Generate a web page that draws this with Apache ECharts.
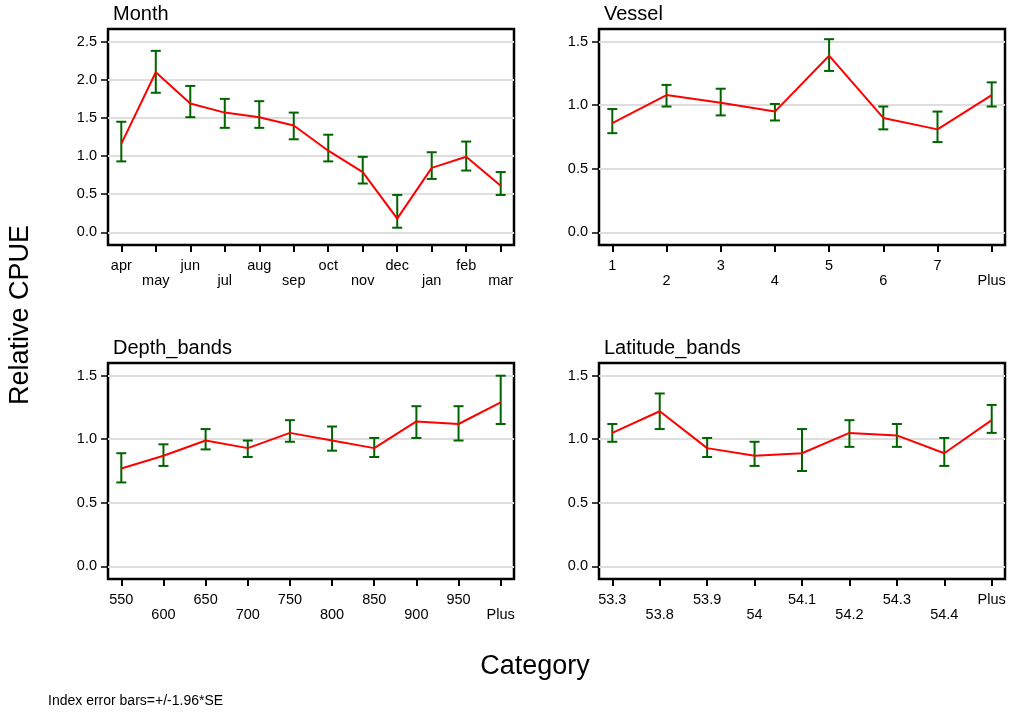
<!DOCTYPE html>
<html>
<head>
<meta charset="utf-8">
<title>Relative CPUE by category</title>
<script src="https://cdn.jsdelivr.net/npm/echarts@6/dist/echarts.min.js"></script>
<style>
  html, body { margin: 0; padding: 0; background: #fff; }
  #chart { width: 1009px; height: 713px; }
</style>
</head>
<body>
<div id="chart"></div>
<script>
// ---- Data: standardised index with +/-1.96*SE limits per category ----
const monthCats = ['apr', 'may', 'jun', 'jul', 'aug', 'sep', 'oct', 'nov', 'dec', 'jan', 'feb', 'mar'];
const monthIdx  = [1.16, 2.10, 1.69, 1.57, 1.51, 1.40, 1.07, 0.79, 0.18, 0.845, 0.99, 0.61];
const monthLo   = [0.93, 1.83, 1.51, 1.37, 1.37, 1.22, 0.93, 0.64, 0.06, 0.70, 0.81, 0.49];
const monthHi   = [1.45, 2.38, 1.92, 1.75, 1.72, 1.57, 1.28, 0.99, 0.49, 1.05, 1.19, 0.79];

const vesselCats = ['1', '2', '3', '4', '5', '6', '7', 'Plus'];
const vesselIdx  = [0.86, 1.08, 1.02, 0.95, 1.39, 0.90, 0.81, 1.08];
const vesselLo   = [0.78, 0.99, 0.92, 0.88, 1.27, 0.81, 0.71, 0.99];
const vesselHi   = [0.97, 1.16, 1.13, 1.01, 1.52, 0.99, 0.95, 1.18];

const depthCats = ['550', '600', '650', '700', '750', '800', '850', '900', '950', 'Plus'];
const depthIdx  = [0.77, 0.87, 0.99, 0.93, 1.05, 0.99, 0.93, 1.14, 1.12, 1.29];
const depthLo   = [0.66, 0.79, 0.92, 0.86, 0.98, 0.91, 0.86, 1.01, 0.99, 1.12];
const depthHi   = [0.89, 0.96, 1.08, 0.99, 1.15, 1.10, 1.01, 1.26, 1.26, 1.50];

const latCats = ['53.3', '53.8', '53.9', '54', '54.1', '54.2', '54.3', '54.4', 'Plus'];
const latIdx  = [1.05, 1.22, 0.93, 0.87, 0.89, 1.05, 1.03, 0.89, 1.15];
const latLo   = [0.98, 1.08, 0.86, 0.79, 0.75, 0.94, 0.94, 0.79, 1.05];
const latHi   = [1.12, 1.36, 1.01, 0.98, 1.08, 1.15, 1.12, 1.01, 1.27];

const monthTicks = [0, 0.5, 1, 1.5, 2, 2.5];
const otherTicks = [0, 0.5, 1, 1.5];

// ---- Layout ----
const FONT = '"Liberation Sans", Arial, Helvetica, sans-serif';
const PANEL_W = 406, PANEL_H = 216;
const EDGE_PAD = 13.3; // px between frame and first/last category
const panels = [
  { title: 'Month',          cats: monthCats,  idx: monthIdx,  lo: monthLo,  hi: monthHi,  ticks: monthTicks, left: 108, top: 29 },
  { title: 'Vessel',         cats: vesselCats, idx: vesselIdx, lo: vesselLo, hi: vesselHi, ticks: otherTicks, left: 599, top: 29 },
  { title: 'Depth_bands',    cats: depthCats,  idx: depthIdx,  lo: depthLo,  hi: depthHi,  ticks: otherTicks, left: 108, top: 363 },
  { title: 'Latitude_bands', cats: latCats,    idx: latIdx,    lo: latLo,    hi: latHi,    ticks: otherTicks, left: 599, top: 363 }
];

const grid = [], xAxis = [], yAxis = [], series = [], graphic = [];

// Vertical error bar with end caps
function renderErrorBar(params, api) {
  const x = api.value(0);
  const lo = api.coord([x, api.value(1)]);
  const hi = api.coord([x, api.value(2)]);
  const hw = 5;
  const style = { stroke: '#006400', lineWidth: 2 };
  return {
    type: 'group',
    children: [
      { type: 'line', shape: { x1: lo[0], y1: lo[1], x2: hi[0], y2: hi[1] }, style },
      { type: 'line', shape: { x1: hi[0] - hw, y1: hi[1], x2: hi[0] + hw, y2: hi[1] }, style },
      { type: 'line', shape: { x1: lo[0] - hw, y1: lo[1], x2: lo[0] + hw, y2: lo[1] }, style }
    ]
  };
}

panels.forEach((p, i) => {
  const n = p.cats.length;
  const step = (PANEL_W - 2 * EDGE_PAD) / (n - 1);
  const xPad = EDGE_PAD / step;
  const yFirst = p.ticks[0], yLast = p.ticks[p.ticks.length - 1];
  const yPad = (yLast - yFirst) / 15;
  const catIndex = p.cats.map((c, k) => k);

  grid.push({
    left: p.left, top: p.top, width: PANEL_W, height: PANEL_H,
    show: true, borderColor: '#000', borderWidth: 2.5, backgroundColor: 'transparent'
  });

  xAxis.push({
    type: 'value', gridIndex: i, position: 'bottom',
    min: -xPad, max: n - 1 + xPad,
    axisLine: { show: false, onZero: false },
    splitLine: { show: false },
    axisTick: { show: true, inside: false, length: 7, lineStyle: { color: '#000', width: 2 }, customValues: catIndex },
    axisLabel: {
      customValues: catIndex,
      color: '#000', fontFamily: FONT, fontSize: 14.5, lineHeight: 15.5,
      margin: 13, hideOverlap: false,
      formatter: v => {
        const k = Math.round(v);
        return (k % 2 === 1 ? '\n' : '') + p.cats[k];
      }
    }
  });

  yAxis.push({
    type: 'value', gridIndex: i, position: 'left',
    min: yFirst - yPad, max: yLast + yPad,
    axisLine: { show: false, onZero: false },
    axisTick: { show: true, inside: false, length: 7, lineStyle: { color: '#000', width: 1.5 }, customValues: p.ticks },
    axisLabel: {
      customValues: p.ticks,
      color: '#000', fontFamily: FONT, fontSize: 14.5, margin: 11,
      formatter: v => v.toFixed(1)
    },
    splitLine: { show: true, lineStyle: { color: '#dedede', width: 2 } }
  });

  series.push({
    type: 'custom', xAxisIndex: i, yAxisIndex: i, z: 2,
    renderItem: renderErrorBar,
    encode: { x: 0, y: [1, 2] },
    data: p.cats.map((c, k) => [k, p.lo[k], p.hi[k]])
  });

  series.push({
    type: 'line', xAxisIndex: i, yAxisIndex: i, z: 3,
    showSymbol: false, symbol: 'none',
    lineStyle: { color: '#ff0000', width: 2 },
    data: p.cats.map((c, k) => [k, p.idx[k]])
  });

  graphic.push({
    type: 'text', x: p.left + 5, y: p.top - 14.5,
    style: { text: p.title, font: '20px ' + FONT, fill: '#000', textAlign: 'left', textVerticalAlign: 'middle' }
  });
});

graphic.push(
  {
    type: 'text', x: 21, y: 315, rotation: Math.PI / 2,
    style: { text: 'Relative CPUE', font: '27px ' + FONT, fill: '#000', textAlign: 'center', textVerticalAlign: 'middle' }
  },
  {
    type: 'text', x: 535, y: 667,
    style: { text: 'Category', font: '27px ' + FONT, fill: '#000', textAlign: 'center', textVerticalAlign: 'middle' }
  },
  {
    type: 'text', x: 48, y: 701,
    style: { text: 'Index error bars=+/-1.96*SE', font: '14px ' + FONT, fill: '#000', textAlign: 'left', textVerticalAlign: 'middle' }
  }
);

const chart = echarts.init(document.getElementById('chart'), null, { renderer: 'canvas' });
chart.setOption({
  animation: false,
  backgroundColor: '#fff',
  grid, xAxis, yAxis, series, graphic
});
</script>
</body>
</html>
